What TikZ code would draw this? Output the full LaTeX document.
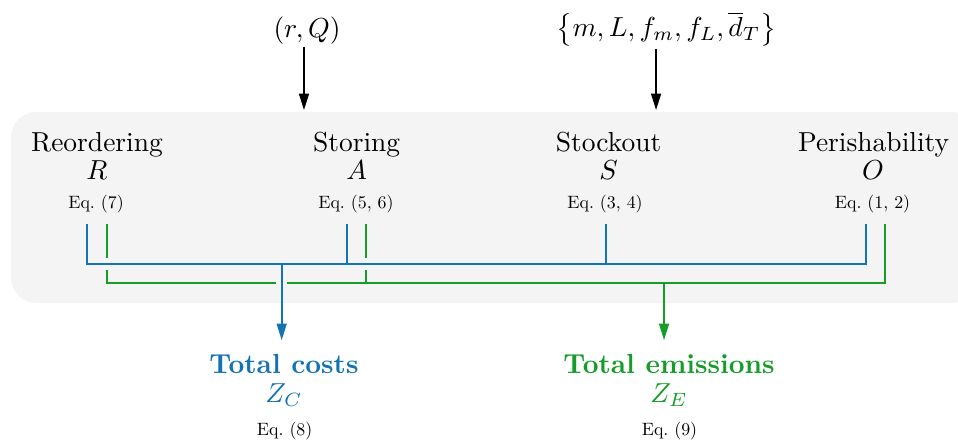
\documentclass[tikz,border=0pt]{standalone}
\usepackage{amsmath}
\usetikzlibrary{arrows.meta}
\definecolor{costblue}{RGB}{20,115,178}
\definecolor{emisgreen}{RGB}{22,156,40}
\definecolor{panelgray}{RGB}{244,244,244}
\newcommand{\eqnote}[1]{\scalebox{0.65}{Eq.\ (#1)}}
\tikzset{
  costline/.style={draw=costblue, line width=0.6pt},
  emisline/.style={draw=emisgreen, line width=0.6pt},
  bridge/.style={draw=panelgray, line width=4.2pt},
  arrowtip/.style={-{Triangle[length=6pt,width=3.6pt]}},
  eq/.style={anchor=base},
  input/.style={anchor=south, inner sep=0.8pt},
}
\begin{document}
\begin{tikzpicture}
    \useasboundingbox (0,0) rectangle (12.25,5.665);
    \fill [panelgray, rounded corners=0.32cm] (0.141,1.790) rectangle (12.5,4.233);
    \node [input] (rq) at (3.926,5.06) {$(r, Q)$};
    \node [input] (params) at (8.520,5.04) {$\bigl\{m, L, f_m, f_L, \overline{d}_T\bigr\}$};
    \coordinate (rqin) at (3.887,4.258);
    \coordinate (paramsin) at (8.389,4.258);
    \draw [line width=0.7pt, arrowtip] (rq.south -| rqin) -- (rqin);
    \draw [line width=0.7pt, arrowtip] (params.south -| paramsin) -- (paramsin);
    \node [anchor=base] (reord) at (1.240,3.734) {Reordering};
    \node [anchor=base] (reordsym) at (1.240,3.376) {$R$};
    \node [eq] (reordeq) at (1.228,3.005) {\eqnote{7}};
    \node [anchor=base] (store) at (4.560,3.734) {Storing};
    \node [anchor=base] (storesym) at (4.560,3.376) {$A$};
    \node [eq] (storeeq) at (4.552,3.005) {\eqnote{5, 6}};
    \node [anchor=base] (stock) at (7.781,3.734) {Stockout};
    \node [anchor=base] (stocksym) at (7.781,3.376) {$S$};
    \node [eq] (stockeq) at (7.737,3.005) {\eqnote{3, 4}};
    \node [anchor=base] (perish) at (11.170,3.734) {Perishability};
    \node [anchor=base] (perishsym) at (11.164,3.376) {$O$};
    \node [eq] (perisheq) at (11.157,3.005) {\eqnote{1, 2}};
    \node [anchor=base, text=costblue, font=\bfseries] (costs) at (3.630,0.895) {Total costs};
    \node [anchor=base, text=costblue] (costsym) at (3.630,0.524) {$Z_C$};
    \node [eq] (costeq) at (3.640,0.102) {\eqnote{8}};
    \node [anchor=base, text=emisgreen, font=\bfseries] (emis) at (8.555,0.895) {Total emissions};
    \node [anchor=base, text=emisgreen] (emissym) at (8.555,0.524) {$Z_E$};
    \node [eq] (emiseq) at (8.561,0.102) {\eqnote{9}};
    \coordinate (rB) at (1.110,2.801);
    \coordinate (rG) at (1.368,2.801);
    \coordinate (aB) at (4.441,2.801);
    \coordinate (aG) at (4.680,2.801);
    \coordinate (sB) at (7.749,2.801);
    \coordinate (oB) at (11.074,2.801);
    \coordinate (oG) at (11.317,2.801);
    \coordinate (busB) at (3.602,2.289);
    \coordinate (busG) at (8.491,2.046);
    \draw [emisline] (rG) -- (rG |- busG) -- (oG |- busG) -- (oG);
    \draw [emisline] (aG) -- (aG |- busG);
    \draw [emisline, arrowtip] (busG) -- ([yshift=1.5pt]emis.north -| busG);
    \draw [bridge] (rB |- busB) -- (oB |- busB);
    \draw [bridge, line width=4pt] ([yshift=2pt]busB |- busG) -- ([yshift=-2pt]busB |- busG);
    \draw [costline] (rB) -- (rB |- busB) -- (oB |- busB) -- (oB);
    \draw [costline] (aB) -- (aB |- busB);
    \draw [costline] (sB) -- (sB |- busB);
    \draw [costline, arrowtip] (busB) -- ([yshift=1.5pt]costs.north -| busB);
\end{tikzpicture}
\end{document}
